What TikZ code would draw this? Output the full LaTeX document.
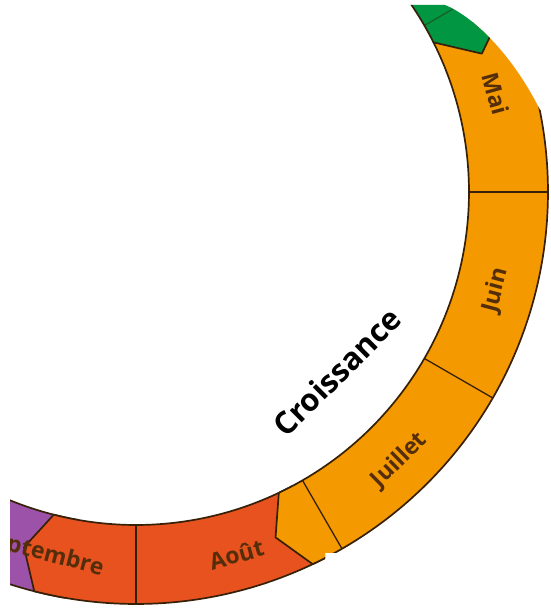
\documentclass[tikz,border=0pt]{standalone}
\usepackage{fontspec}
\setmainfont{Open Sans}
\definecolor{cOr}{RGB}{244,154,0}
\definecolor{cRe}{RGB}{232,82,30}
\definecolor{cGr}{RGB}{0,150,66}
\definecolor{cPu}{RGB}{155,82,168}
\definecolor{cLine}{RGB}{55,32,8}
\definecolor{cTxt}{RGB}{84,46,10}
\newcommand\rin{333}
\newcommand\rout{412}
\newcommand\rmid{372.5}
\newcommand\arrowseg[4]{%
  \filldraw[seg, fill=#1] ([shift={(#2:\rout)}]C) arc[start angle=#2, end angle=#3, radius=\rout]
    -- ([shift={(#4:\rmid)}]C) -- ([shift={(#3:\rin)}]C)
    arc[start angle=#3, end angle=#2, radius=\rin] -- cycle;}
\begin{document}
\begin{tikzpicture}[x=1pt,y=1pt,
  seg/.style={draw=cLine, line width=1.7pt, line join=round},
  monthline/.style={draw=cLine, line width=1.3pt},
  mlab/.style={text=cTxt, font=\bfseries\fontsize{23}{23}\selectfont, inner sep=0pt},
  biglab/.style={text=black, font=\bfseries\fontsize{31}{31}\selectfont, inner sep=0pt}]
\useasboundingbox (0,0) rectangle (550,610);
\coordinate (C) at (136,418);
\begin{scope}
  \clip (10,605) -- (445,605) .. controls (470,595) and (510,560) .. (540,500)
        -- (552,500) -- (552,57) -- (325,57) -- (325,-2) -- (10,-2) -- cycle;
  % purple sector
  \filldraw[seg, fill=cPu] ([shift={(-100:\rout)}]C) arc[start angle=-100, end angle=-175, radius=\rout]
    -- ([shift={(-175:\rin)}]C) arc[start angle=-175, end angle=-100, radius=\rin] -- cycle;
  % red phase
  \arrowseg{cRe}{-62}{-104.3}{-107.5}
  % orange phase
  \arrowseg{cOr}{26.7}{-64.6}{-68}
  % green phase
  \arrowseg{cGr}{75}{26.7}{21.8}
  % month boundaries
  \coordinate (m30a) at ([shift={(30:\rin)}]C);
  \coordinate (m30b) at ([shift={(30:\rout)}]C);
  \draw[monthline, draw opacity=0.45] (m30a) -- (m30b);
  \foreach \a in {0,-30,-60,-90}{
    \coordinate (ma\a) at ([shift={(\a:\rin)}]C);
    \coordinate (mb\a) at ([shift={(\a:\rout)}]C);
    \draw[monthline] (ma\a) -- (mb\a);
  }
  % month labels
  \node[mlab, rotate=-74.7] (mai) at ([shift={(15.3:373)}]C) {Mai};
  \node[mlab, rotate=75] (juin) at ([shift={(-15.3:373)}]C) {Juin};
  \node[mlab, rotate=44.5] (juillet) at ([shift={(-45.5:376)}]C) {Juillet};
  \node[mlab, rotate=15.5] (aout) at ([shift={(-74.5:376)}]C) {Août};
  \node[mlab, rotate=-14.5] (sept) at ([shift={(-104.5:374)}]C) {Septembre};
\end{scope}
\node[biglab, rotate=45] (croissance) at (337,238) {Croissance};
\end{tikzpicture}
\end{document}
